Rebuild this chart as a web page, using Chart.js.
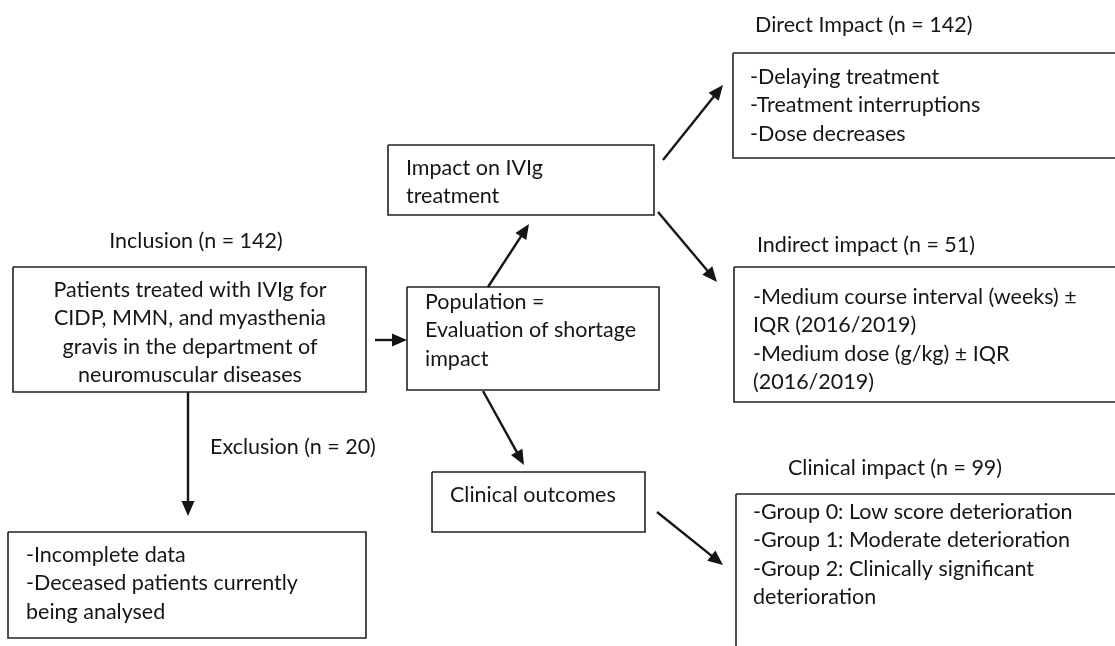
<!DOCTYPE html>
<html>
<head>
<meta charset="utf-8">
<title>IVIg shortage flowchart</title>
<script src="https://cdn.jsdelivr.net/npm/chart.js@4.4.1/dist/chart.umd.min.js"></script>
<style>
  html, body { margin: 0; padding: 0; background: #fff; }
  #wrap { width: 1115px; height: 646px; }
</style>
</head>
<body>
<div id="wrap"><canvas id="flow" width="1115" height="646"></canvas></div>
<script>
// ==========================================
//  FLOWCHART CONTENT
// ==========================================

// box contents, one entry per box
const BOX_NAMES = ['inclusion', 'population', 'impact', 'outcomes', 'exclusion', 'direct', 'indirect', 'clinical'];
const BOX_LINES = [
  ['Patients treated with IVIg for', 'CIDP, MMN, and myasthenia', 'gravis in the department of', 'neuromuscular diseases'],
  ['Population =', 'Evaluation of shortage', 'impact'],
  ['Impact on IVIg', 'treatment'],
  ['Clinical outcomes'],
  ['-Incomplete data', '-Deceased patients currently', 'being analysed'],
  ['-Delaying treatment', '-Treatment interruptions', '-Dose decreases'],
  ['-Medium course interval (weeks) \u00b1', 'IQR (2016/2019)', '-Medium dose (g/kg) \u00b1 IQR', '(2016/2019)'],
  ['-Group 0: Low score deterioration', '-Group 1: Moderate deterioration', '-Group 2: Clinically significant', 'deterioration'],
];

// free labels above boxes / beside arrows
const LABELS = ['Inclusion (n = 142)', 'Exclusion (n = 20)', 'Direct Impact (n = 142)', 'Indirect impact (n = 51)', 'Clinical impact (n = 99)'];

// arrows: from box -> to box
const ARROW_FROM = ['inclusion', 'inclusion', 'population', 'population', 'impact', 'impact', 'outcomes'];
const ARROW_TO   = ['population', 'exclusion', 'impact', 'outcomes', 'direct', 'indirect', 'clinical'];

// ==========================================
//  LAYOUT (chart units = page pixels, y down)
// ==========================================
const BOX_LEFT   = [13, 407, 388, 432, 8, 733, 734, 736];
const BOX_TOP    = [267, 287, 145, 472, 532, 53, 267, 494];
const BOX_RIGHT  = [366, 659, 654, 645, 366, 1125, 1125, 1125];
const BOX_BOTTOM = [392, 390, 215, 532, 638, 158, 402, 660];

const TEXT_X     = [190, 425, 406, 450, 26, 750, 753, 753];
const TEXT_Y     = [290, 302, 168, 495, 555, 77, 297, 512];
const TEXT_ALIGN = ['center', 'left', 'left', 'left', 'left', 'left', 'left', 'left'];
const LINE_STEP  = 28.5;

const LABEL_X     = [196, 210, 755, 757, 788];
const LABEL_Y     = [241, 447, 25, 245, 468];
const LABEL_ALIGN = ['center', 'left', 'left', 'left', 'left'];

const ARROW_X0 = [375, 188, 488, 483, 663, 658, 657];
const ARROW_Y0 = [340, 392, 287, 391, 160, 212, 512];
const ARROW_X1 = [407, 188, 529, 524, 723, 717, 723];
const ARROW_Y1 = [340, 516, 224, 465, 85, 282, 565];

const HEAD_LEN  = 15;
const HEAD_HALF = 6.5;

const FONT_FAMILY = 'Lato, "Open Sans", sans-serif';
const FONT_SIZE   = 21.5;
const INK         = '#151515';

(function () {
  'use strict';

  // === DATASETS ===
  var datasets = [];

  BOX_NAMES.forEach(function (name, i) {
    datasets.push({
      label: name,
      data: [
        { x: BOX_LEFT[i],  y: BOX_TOP[i] },
        { x: BOX_RIGHT[i], y: BOX_TOP[i] },
        { x: BOX_RIGHT[i], y: BOX_BOTTOM[i] },
        { x: BOX_LEFT[i],  y: BOX_BOTTOM[i] },
        { x: BOX_LEFT[i],  y: BOX_TOP[i] },
      ],
      showLine: true,
      borderColor: '#222222',
      borderWidth: 1.6,
      pointRadius: 0,
      tension: 0,
      fill: false,
    });
  });

  ARROW_FROM.forEach(function (from, i) {
    var dx = ARROW_X1[i] - ARROW_X0[i];
    var dy = ARROW_Y1[i] - ARROW_Y0[i];
    var len = Math.sqrt(dx * dx + dy * dy);
    // stop the shaft inside the arrow head so the tip stays sharp
    var cut = (HEAD_LEN * 0.7) / len;
    datasets.push({
      label: from + '->' + ARROW_TO[i],
      data: [
        { x: ARROW_X0[i], y: ARROW_Y0[i] },
        { x: ARROW_X1[i] - dx * cut, y: ARROW_Y1[i] - dy * cut },
      ],
      showLine: true,
      borderColor: INK,
      borderWidth: 2.4,
      pointRadius: 0,
      tension: 0,
      fill: false,
    });
  });

  // === ARROW HEADS + TEXT ===
  var flowPlugin = {
    id: 'flowText',
    afterDatasetsDraw: function (chart) {
      var ctx = chart.ctx;
      var sx = chart.scales.x;
      var sy = chart.scales.y;

      ctx.save();
      ctx.fillStyle = INK;
      for (var i = 0; i < ARROW_FROM.length; i++) {
        var tx = sx.getPixelForValue(ARROW_X1[i]);
        var ty = sy.getPixelForValue(ARROW_Y1[i]);
        var fx = sx.getPixelForValue(ARROW_X0[i]);
        var fy = sy.getPixelForValue(ARROW_Y0[i]);
        var ang = Math.atan2(ty - fy, tx - fx);
        var bx = tx - HEAD_LEN * Math.cos(ang);
        var by = ty - HEAD_LEN * Math.sin(ang);
        ctx.beginPath();
        ctx.moveTo(tx, ty);
        ctx.lineTo(bx + HEAD_HALF * Math.sin(ang), by - HEAD_HALF * Math.cos(ang));
        ctx.lineTo(bx - HEAD_HALF * Math.sin(ang), by + HEAD_HALF * Math.cos(ang));
        ctx.closePath();
        ctx.fill();
      }

      ctx.font = FONT_SIZE + 'px ' + FONT_FAMILY;
      ctx.textBaseline = 'middle';

      BOX_LINES.forEach(function (lines, b) {
        ctx.textAlign = TEXT_ALIGN[b];
        lines.forEach(function (line, k) {
          ctx.fillText(line,
            sx.getPixelForValue(TEXT_X[b]),
            sy.getPixelForValue(TEXT_Y[b] + k * LINE_STEP));
        });
      });

      LABELS.forEach(function (txt, j) {
        ctx.textAlign = LABEL_ALIGN[j];
        ctx.fillText(txt, sx.getPixelForValue(LABEL_X[j]), sy.getPixelForValue(LABEL_Y[j]));
      });
      ctx.restore();
    },
  };

  // === CHART ===
  new Chart(document.getElementById('flow').getContext('2d'), {
    type: 'scatter',
    data: { datasets: datasets },
    options: {
      responsive: false,
      animation: false,
      devicePixelRatio: 1,
      events: [],
      layout: { padding: 0 },
      plugins: {
        legend:  { display: false },
        tooltip: { enabled: false },
      },
      scales: {
        x: { type: 'linear', min: 0, max: 1115, display: false },
        y: { type: 'linear', min: 0, max: 646, reverse: true, display: false },
      },
    },
    plugins: [flowPlugin],
  });
}());
</script>
</body>
</html>
